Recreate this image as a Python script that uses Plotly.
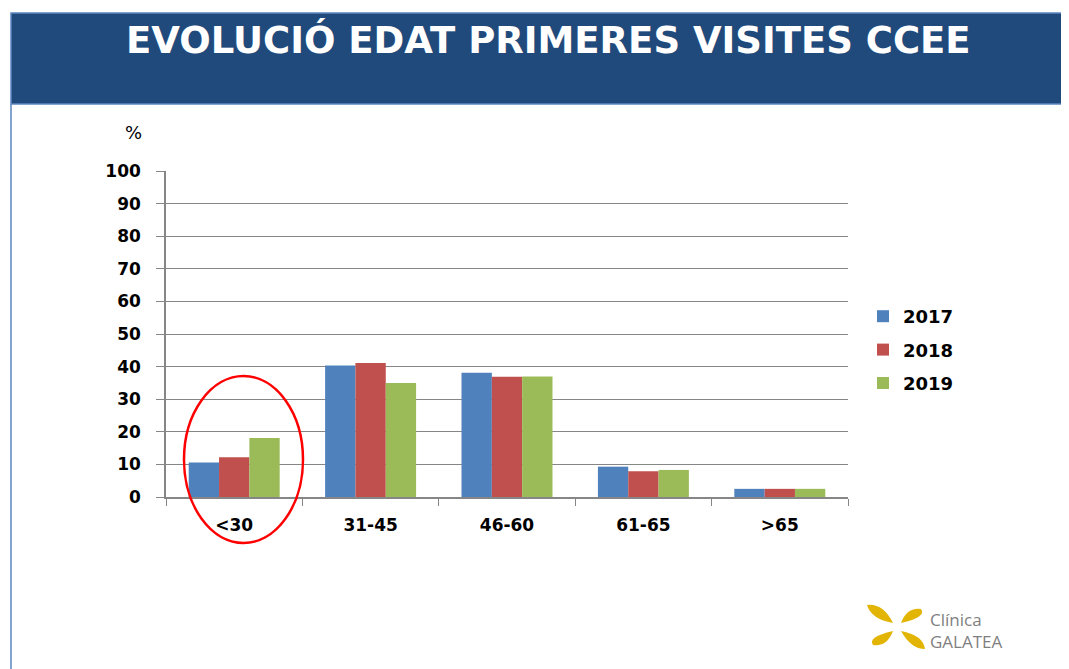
import plotly.graph_objects as go

OFF = 8  # page body margin
W, H = 1069 - OFF, 669 - OFF
L, R, T, B = 166, 848, 171, 497  # plot area in reference pixels

age_groups = ["<30", "31-45", "46-60", "61-65", ">65"]
years = ["2017", "2018", "2019"]
pct_2017 = [10.6, 40.3, 38.1, 9.3, 2.5]
pct_2018 = [12.2, 41.1, 36.9, 7.9, 2.5]
pct_2019 = [18.1, 35.0, 37.0, 8.3, 2.5]
colors = ["#4F81BD", "#C0504D", "#9BBB59"]


def px(x):
    return (x - L) / (R - L)


def py(y):
    return (B - y) / (B - T)


fig = go.Figure()
for i, (year, vals) in enumerate(zip(years, [pct_2017, pct_2018, pct_2019])):
    fig.add_trace(go.Bar(x=age_groups, y=vals, name=year, marker_color=colors[i],
                         marker_line_width=0, legendgroup=year))

# header banner, page border, red ellipse round the <30 group
fig.add_shape(type="rect", xref="paper", yref="paper", x0=px(11), x1=px(1080), y0=py(104), y1=py(13),
              fillcolor="#214A7C", line=dict(color="#5B86C0", width=1.5), layer="below")
fig.add_shape(type="line", xref="paper", yref="paper", x0=px(11), x1=px(11), y0=py(104), y1=py(680),
              line=dict(color="#5B86C0", width=1.5))
fig.add_shape(type="circle", xref="paper", yref="paper", x0=px(184), x1=px(303), y0=py(543), y1=py(376),
              line=dict(color="#FF0000", width=2.5))

# logo petals
cx, cy = 897, 627
petals = [
    [(cx - 4, cy - 4), (cx - 26, cy - 8), (cx - 30, cy - 22), (cx - 14, cy - 24), (cx - 4, cy - 4)],
    [(cx + 4, cy - 4), (cx + 10, cy - 20), (cx + 24, cy - 18), (cx + 30, cy - 10), (cx + 4, cy - 4)],
    [(cx + 4, cy + 4), (cx + 26, cy + 8), (cx + 28, cy + 22), (cx + 14, cy + 22), (cx + 4, cy + 4)],
    [(cx - 4, cy + 4), (cx - 10, cy + 20), (cx - 24, cy + 18), (cx - 30, cy + 10), (cx - 4, cy + 4)],
]
for p0, c1, c2, p1, p2 in petals:
    path = (f"M{px(p0[0])},{py(p0[1])} Q{px(c1[0])},{py(c1[1])} {px(c2[0])},{py(c2[1])} "
            f"Q{px(p1[0])},{py(p1[1])} {px(p2[0])},{py(p2[1])} Z")
    fig.add_shape(type="path", xref="paper", yref="paper", path=path,
                  fillcolor="#E2B505", line=dict(width=0))

fig.update_layout(
    width=W, height=H,
    margin=dict(l=L - OFF, r=W - (R - OFF), t=T - OFF, b=H - (B - OFF), pad=0),
    paper_bgcolor="white", plot_bgcolor="white",
    barmode="group", bargap=0.333, bargroupgap=0,
    font=dict(family="DejaVu Sans", color="#000000"),
    legend=dict(x=px(863), y=py(298), xanchor="left", yanchor="top",
                font=dict(size=18, weight="bold"), tracegroupgap=7, bgcolor="rgba(0,0,0,0)"),
    xaxis=dict(type="category", tickson="boundaries", ticks="outside", ticklen=7,
               tickcolor="#868686", showline=True, linecolor="#868686", linewidth=1.5,
               tickfont=dict(size=17, weight="bold"), showgrid=False, ticklabelstandoff=12),
    yaxis=dict(range=[0, 100], dtick=10, ticks="outside", ticklen=8, tickcolor="#868686",
               showline=True, linecolor="#868686", linewidth=1.5, gridcolor="#868686",
               gridwidth=1, tickfont=dict(size=17, weight="bold"), zeroline=False,
               ticklabelstandoff=12),
    annotations=[
        dict(text="<b>EVOLUCIÓ EDAT PRIMERES VISITES CCEE</b>", xref="paper", yref="paper",
             x=px(548), y=py(40), xanchor="center", yanchor="middle", showarrow=False,
             font=dict(size=37, color="white", family="DejaVu Sans")),
        dict(text="%", xref="paper", yref="paper", x=px(133), y=py(132), showarrow=False,
             xanchor="center", yanchor="middle", font=dict(size=18)),
        dict(text="Clínica", xref="paper", yref="paper", x=px(929), y=py(619), showarrow=False,
             xanchor="left", yanchor="middle", borderpad=0,
             font=dict(size=17, color="#7F7F7F", family="Open Sans")),
        dict(text="GALATEA", xref="paper", yref="paper", x=px(929), y=py(641), showarrow=False,
             xanchor="left", yanchor="middle", borderpad=0,
             font=dict(size=17, color="#7F7F7F", family="Open Sans")),
    ],
)

fig.write_html("out.html")
